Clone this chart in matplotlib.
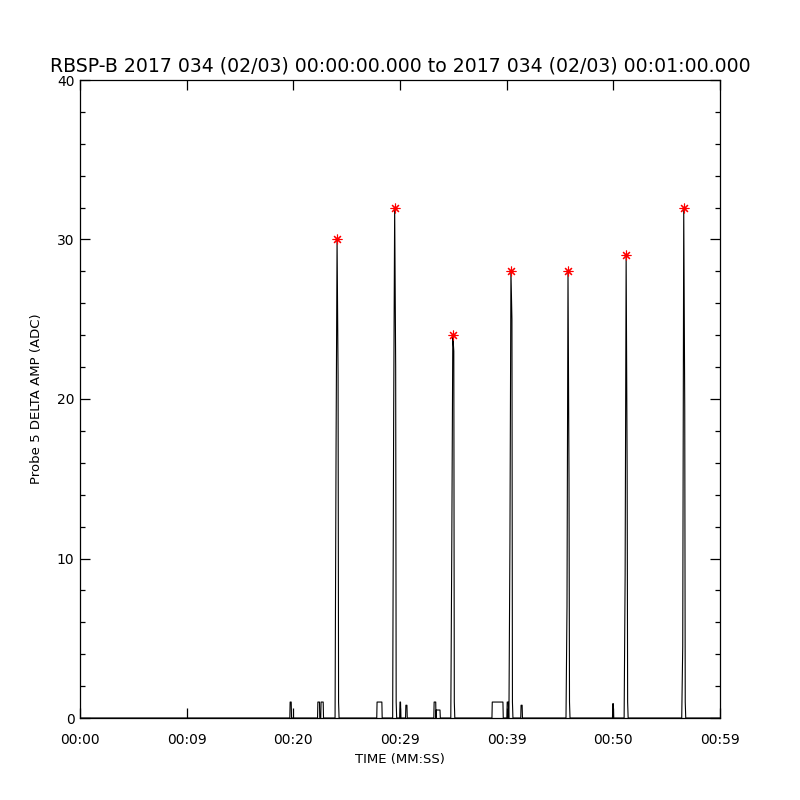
import numpy as np
import matplotlib
matplotlib.use("Agg")
import matplotlib.pyplot as plt
from matplotlib.ticker import MultipleLocator, FixedLocator, FixedFormatter

# Spike events (seconds after 00:00:00) and their sample values
spike_times = [24.1, 29.5, 34.95, 40.4, 45.75, 51.2, 56.6]
spike_peaks = [30, 32, 24, 28, 28, 29, 32]
spike_rise = [17, 19, 11, 11, 7, 9, 4.5]
spike_fall = [21.5, 22, 23, 25, 15, 15.5, 19.5]

# Small bumps near the baseline
bump_t0 = [19.7, 22.3, 22.6, 27.85, 30.0, 30.55, 33.2, 33.4, 38.65, 40.05, 41.35, 49.95]
bump_t1 = [19.8, 22.45, 22.8, 28.3, 30.05, 30.65, 33.35, 33.75, 39.65, 40.15, 41.45, 50.0]
bump_lvl = [1, 1, 1, 1, 1, 0.8, 1, 0.5, 1, 1, 0.8, 0.9]

xtick_vals = [0, 10, 20, 30, 40, 50, 60]
xtick_labels = ["00:00", "00:09", "00:20", "00:29", "00:39", "00:50", "00:59"]

dt = 0.094

# build the time series
pts = [(0.0, 0.0), (60.0, 0.0)]
for t, p, r, f in zip(spike_times, spike_peaks, spike_rise, spike_fall):
    pts += [(t - 2 * dt, 0), (t - dt, r), (t, p), (t + dt, f), (t + 1.5 * dt, 1), (t + 2 * dt, 0)]
for a, b, l in zip(bump_t0, bump_t1, bump_lvl):
    pts += [(a - 0.03, 0), (a, l), (b, l), (b + 0.03, 0)]
pts.sort(key=lambda p: p[0])
t_all = np.array([p[0] for p in pts])
v_all = np.array([p[1] for p in pts])

fig = plt.figure(figsize=(8, 8), dpi=100)
ax = fig.add_axes([0.1, 0.1025, 0.8, 0.7975])

ax.plot(t_all, v_all, color="black", lw=0.8)
ax.plot(spike_times, spike_peaks, linestyle="none", marker=(8, 2, 0),
        color="red", markersize=7, mew=0.8)

ax.set_xlim(0, 60)
ax.set_ylim(0, 40)
ax.xaxis.set_major_locator(FixedLocator(xtick_vals))
ax.xaxis.set_major_formatter(FixedFormatter(xtick_labels))
ax.yaxis.set_major_locator(MultipleLocator(10))
ax.yaxis.set_minor_locator(MultipleLocator(2))

ax.tick_params(which="both", direction="in", top=True, right=True, labelsize=10, width=0.9)
ax.tick_params(which="major", length=7.2)
ax.tick_params(which="minor", length=3.6)
ax.tick_params(axis="x", pad=11)
ax.tick_params(axis="y", pad=4)
for s in ax.spines.values():
    s.set_linewidth(0.9)

ax.set_xlabel("TIME (MM:SS)", fontsize=9.5, labelpad=4)
ax.set_ylabel("Probe 5 DELTA AMP (ADC)", fontsize=9.5, labelpad=10)
ax.set_title("RBSP-B 2017 034 (02/03) 00:00:00.000 to 2017 034 (02/03) 00:01:00.000",
             fontsize=13.6, pad=6)

fig.savefig("out.png", dpi=100)
